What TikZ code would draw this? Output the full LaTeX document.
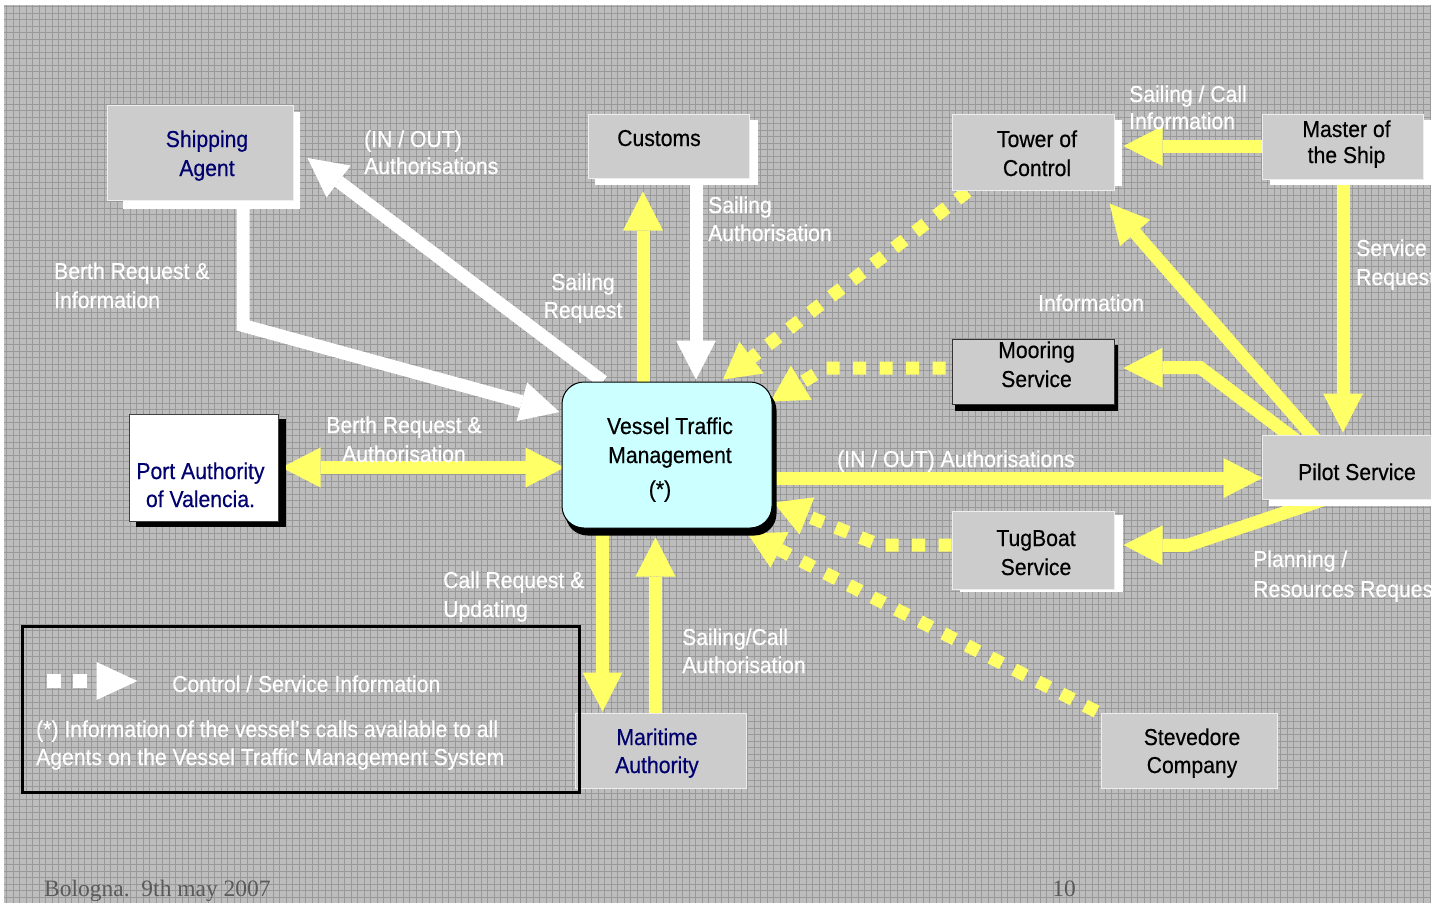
\documentclass[tikz,border=0pt]{standalone}
\usepackage{fontspec}
\setmainfont{Liberation Sans}[FakeStretch=0.92,FakeBold=0.5]
\newfontfamily\footfont{Liberation Serif}
\usetikzlibrary{arrows.meta,calc}

\definecolor{bggrey}{HTML}{BDBDBD}
\definecolor{gridgrey}{HTML}{999999}
\definecolor{boxgrey}{HTML}{CCCCCC}
\definecolor{boxedge}{HTML}{EEEEEE}
\definecolor{flowyellow}{HTML}{FFFF66}
\definecolor{vtmcyan}{HTML}{CCFFFF}
\definecolor{navy}{RGB}{0,0,110}
\definecolor{footgrey}{HTML}{5A5A5A}

\pgfdeclarelayer{back}
\pgfdeclarelayer{flow}
\pgfdeclarelayer{shade}
\pgfsetlayers{back,flow,shade,main}

\tikzset{
  every node/.style={font=\fontsize{23}{29}\selectfont, inner sep=0pt},
  greybox/.style={fill=boxgrey, draw=boxedge, line width=1pt},
  ntext/.style={anchor=base, align=center},
  lbl/.style={text=white, anchor=base west, align=left},
  clbl/.style={text=white, anchor=base, align=center},
  bigtip/.tip={Triangle[length=39pt,width=40pt,line width=0pt]},
  dottip/.tip={Triangle[length=36pt,width=40pt,line width=0pt]},
  wflow/.style={draw=white, line width=13pt, -bigtip},
  yflow/.style={draw=flowyellow, line width=13pt, -bigtip},
  ybi/.style={draw=flowyellow, line width=13pt, bigtip-bigtip},
  ydot/.style={draw=flowyellow, line width=13pt, dash pattern=on 13pt off 13.5pt, -dottip},
}

\begin{document}
\begin{tikzpicture}[x=1pt,y=-1pt]
\useasboundingbox (0,0) rectangle (1431,906);

% slide background with its fine grid texture
\begin{pgfonlayer}{back}
  \fill[white] (0,0) rectangle (1431,906);
  \fill[bggrey] (4,5) rectangle (1431,903);
  \draw[gridgrey, line width=0.9pt, xstep=6.5pt, ystep=6.5pt] (4,5) grid (1431,903);
\end{pgfonlayer}

% boxes
\node[greybox, minimum width=186pt, minimum height=95pt] (ship) at (200,152.5) {};
\node[greybox, minimum width=161pt, minimum height=64pt] (customs) at (668.5,146) {};
\node[greybox, minimum width=162pt, minimum height=76pt] (tower) at (1033,152) {};
\node[greybox, minimum width=161pt, minimum height=65pt] (master) at (1342.5,146.5) {};
\node[greybox, draw=black!80, minimum width=162pt, minimum height=65pt] (mooring) at (1033,371.5) {};
\node[greybox, minimum width=198pt, minimum height=64pt] (pilot) at (1361,467) {};
\node[greybox, minimum width=162pt, minimum height=78pt] (tug) at (1033,550) {};
\node[fill=vtmcyan, draw=black, line width=1pt, rounded corners=22pt,
      minimum width=210pt, minimum height=146pt] (vtm) at (667,455) {};
\node[fill=white, draw=black!75, line width=1pt, minimum width=149pt, minimum height=107pt] (port) at (203.5,467.5) {};
\node[greybox, minimum width=171pt, minimum height=75pt] (mar) at (660.5,750.5) {};
\node[greybox, minimum width=176pt, minimum height=75pt] (stev) at (1189,750.5) {};
\node[draw=black, line width=3pt, minimum width=557pt, minimum height=166pt] (legend) at (300.5,709) {};

% box shadows
\begin{pgfonlayer}{shade}
  \fill[white] ($(ship.north west)+(16,7)$) rectangle ($(ship.south east)+(6,8)$);
  \fill[white] ($(customs.north west)+(7,6)$) rectangle ($(customs.south east)+(8,6)$);
  \fill[white] ($(tower.north west)+(7,6)$) rectangle ($(tower.south east)+(7,-5)$);
  \fill[white] ($(master.north west)+(8,6)$) rectangle ($(master.south east)+(20,5)$);
  \fill[black] ($(mooring.north west)+(3,6)$) rectangle ($(mooring.south east)+(3,6)$);
  \fill[white] ($(pilot.north west)+(7,6)$) rectangle ($(pilot.south east)+(7,6)$);
  \fill[white] ($(tug.north west)+(8,4)$) rectangle ($(tug.south east)+(8,2)$);
  \fill[black, rounded corners=22pt] ($(vtm.north west)+(4,7)$) rectangle ($(vtm.south east)+(4,7)$);
  \fill[black] ($(port.north west)+(7,5)$) rectangle ($(port.south east)+(7,5)$);
\end{pgfonlayer}

% message flows
\begin{pgfonlayer}{flow}
  % white flows
  \draw[wflow] ([xshift=43pt]ship.south) -- ++(0,125) -- ([xshift=-2pt,yshift=43pt]vtm.west);
  \draw[wflow] ([xshift=-64pt]vtm.north) -- ([xshift=14pt,yshift=-5.5pt]ship.east);
  \draw[wflow] ([xshift=27.5pt]customs.south) -- ([xshift=29pt,yshift=2pt]vtm.north);
  % yellow flows
  \draw[yflow] ([xshift=-24pt]vtm.north) -- ([xshift=-25.5pt,yshift=-13pt]customs.south);
  \draw[ybi] ([xshift=3pt]port.east) -- ([xshift=3pt,yshift=-12.5pt]vtm.west);
  \draw[yflow] ([yshift=-23pt]vtm.east) -- ([xshift=1pt,yshift=-11pt]pilot.west);
  \draw[yflow] ([yshift=0.5pt]master.west) -- ([xshift=9pt,yshift=6pt]tower.east);
  \draw[yflow] ([xshift=0.5pt]master.south) -- ([xshift=-18pt,yshift=2pt]pilot.north);
  \draw[yflow] ([xshift=-43pt,yshift=-8pt]pilot.north) -- ([xshift=-5pt,yshift=-13pt]tower.south east);
  \draw[yflow] ([xshift=-62pt,yshift=-8pt]pilot.north) -- ++(-99,-75) -- ([xshift=9pt,yshift=3.5pt]mooring.east);
  \draw[yflow] ([xshift=-31pt,yshift=2pt]pilot.south) -- ++(-143,48) -- ([xshift=9pt,yshift=5pt]tug.east);
  \draw[yflow] ([xshift=-64.5pt]vtm.south) -- ([xshift=-58pt,yshift=1pt]mar.north);
  \draw[yflow] ([xshift=-5pt]mar.north) -- ([xshift=-11.5pt,yshift=-9pt]vtm.south);
  % control / service information
  \draw[ydot] ([xshift=16pt,yshift=-1pt]tower.south west) -- ([xshift=56pt,yshift=2pt]vtm.north);
  \draw[ydot] ([xshift=-6pt,yshift=3.5pt]mooring.west) -- ++(-120,0) -- ([xshift=-2pt,yshift=-20pt]vtm.north east);
  \draw[ydot] ([yshift=5pt]tug.west) -- ++(-72,0) -- ([xshift=1pt,yshift=26pt]vtm.south east);
  \draw[ydot] ([xshift=-4pt,yshift=1pt]stev.north west) -- ([xshift=-25pt,yshift=-5pt]vtm.south east);
\end{pgfonlayer}

% box texts (multi-line nodes sit on the baseline of their last line)
\node[ntext, text=navy] (ship-t) at (207,176) {Shipping\\Agent};
\node[ntext] (customs-t) at (659,146) {Customs};
\node[ntext] (tower-t) at (1037,176) {Tower of\\Control};
\node[ntext] (master-t) at (1346.5,163) {Master of\\[-3pt]the Ship};
\node[ntext] (mooring-t) at (1036.5,387) {Mooring\\Service};
\node[ntext] (pilot-t) at (1357,480) {Pilot Service};
\node[ntext] (tug-t) at (1036,575) {TugBoat\\Service};
\node[ntext] (vtm-t) at (670,497) {Vessel Traffic\\Management\\[5pt](*)\hspace*{20pt}};
\node[ntext, text=navy] (port-t) at (200.5,507) {Port Authority\\[-1pt]of Valencia.};
\node[ntext, text=navy] (mar-t) at (657,773) {Maritime\\[-1pt]Authority};
\node[ntext] (stev-t) at (1192,773) {Stevedore\\[-1pt]Company};

% flow labels
\node[lbl] (l-inout) at (364,174) {(IN / OUT)\\[-2pt]Authorisations};
\node[lbl] (l-berth) at (54,308) {Berth Request \&\\Information};
\node[clbl] (l-sreq) at (583,318) {Sailing\\[-1pt]Request};
\node[lbl] (l-sauth) at (708,241) {Sailing\\[-1pt]Authorisation};
\node[lbl] (l-scall) at (1129,129) {Sailing / Call\\[-2pt]Information};
\node[lbl] (l-serv) at (1356,285) {Service\\Request};
\node[lbl] (l-info) at (1038,311) {Information};
\node[clbl] (l-bauth) at (404,462) {Berth Request \&\\Authorisation};
\node[lbl] (l-inout2) at (837,467) {(IN / OUT) Authorisations};
\node[lbl] (l-plan) at (1253,597) {Planning /\\[1pt]Resources Request};
\node[lbl] (l-call) at (443,617) {Call Request \&\\Updating};
\node[lbl] (l-scauth) at (682,673) {Sailing/Call\\[-1pt]Authorisation};

% legend
\coordinate (ls) at ($(legend.west)+(26,-28)$);
\draw[white, line width=14pt, dash pattern=on 14pt off 12pt,
      -{Triangle[length=41pt,width=38pt,line width=0pt]}] (ls) -- ++(91,0);
\node[lbl] (leg-1) at (172,692) {Control / Service Information};
\node[lbl] (leg-2) at (36,765) {(*) Information of the vessel’s calls available to all\\[-1pt]Agents on the Vessel Traffic Management System};

% footer
\node[anchor=base west, font=\footfont\fontsize{23.5}{28}\selectfont, text=footgrey] (date) at (44,896) {Bologna.\hspace{0.5em}9th may 2007};
\node[anchor=base, font=\footfont\fontsize{23.5}{28}\selectfont, text=footgrey] (page) at (1064,896) {10};
\end{tikzpicture}
\end{document}
